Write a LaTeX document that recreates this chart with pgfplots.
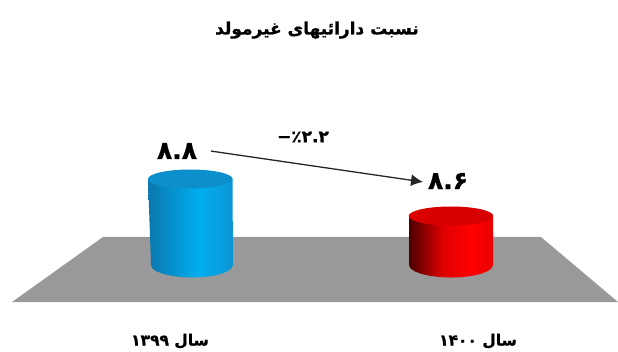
\documentclass[border=0pt]{standalone}
\usepackage{pgfplots}
\pgfplotsset{compat=1.18}
\usetikzlibrary{arrows.meta}
\usepackage{fontspec}
\setmainfont{DejaVu Sans}
\newfontfamily\arabicfont[Script=Arabic,BoldFeatures={FakeBold=1.0}]{DejaVu Sans}
\TeXXeTstate=1
\definecolor{plate}{HTML}{999999}
\definecolor{bluecap}{HTML}{0C8FCB}
\definecolor{redcap}{HTML}{D80000}
\definecolor{bluedark}{HTML}{0B77AE}
\definecolor{bluelight}{HTML}{00AEEF}
\definecolor{blueedge}{HTML}{0C95D5}
\definecolor{reddark}{HTML}{4A0000}
\definecolor{redmid}{HTML}{E00000}
\definecolor{redlight}{HTML}{FF0000}
\definecolor{rededge}{HTML}{E80000}
\pgfdeclarehorizontalshading{bluebody}{100bp}{
  color(0bp)=(bluedark);
  color(25bp)=(bluedark);
  color(55bp)=(bluelight);
  color(75bp)=(blueedge);
  color(100bp)=(blueedge)}
\pgfdeclarehorizontalshading{redbody}{100bp}{
  color(0bp)=(reddark);
  color(25bp)=(reddark);
  color(45bp)=(redmid);
  color(62bp)=(redlight);
  color(75bp)=(rededge);
  color(100bp)=(rededge)}
% flat ellipse closing the top of each cylinder
\pgfdeclareplotmark{cap}{%
  \pgfpathellipse{\pgfpointorigin}{\pgfpoint{42.3pt}{0pt}}{\pgfpoint{0pt}{9.5pt}}%
  \pgfusepathqfill}
\begin{document}
\begin{tikzpicture}
% keeps the page at the full size of the axis
\path (0,0) rectangle (618pt,352pt);
\begin{axis}[
  scale only axis, width=618pt, height=352pt,
  xmin=0, xmax=618, ymin=7.8649, ymax=9.7676,
  hide axis, clip=false]
  % floor of the chart
  \addplot[draw=none, fill=plate] coordinates
    {(103,8.4865) (541,8.4865) (618,8.1351) (12,8.1351)} -- cycle;
  % 1399 cylinder
  \addplot[draw=none, shade, shading=bluebody] coordinates
    {(148,8.8) (232.5,8.8) (233,8.335) (231.6,8.3175) (227.5,8.3012) (221,8.2872)
     (212.5,8.2765) (202.6,8.2697) (192,8.2674) (181.4,8.2697) (171.5,8.2765)
     (163,8.2872) (156.5,8.3012) (152.4,8.3175) (151,8.335)} -- cycle;
  \addplot[only marks, mark=cap, mark options={fill=bluecap, draw=none}]
    coordinates {(190.3,8.8)};
  % 1400 cylinder
  \addplot[draw=none, shade, shading=redbody] coordinates
    {(409,8.6) (493,8.6) (493,8.335) (491.6,8.3175) (487.4,8.3012) (480.7,8.2872)
     (472,8.2765) (461.9,8.2697) (451,8.2674) (440.1,8.2697) (430,8.2765)
     (421.3,8.2872) (414.6,8.3012) (410.4,8.3175) (409,8.335)} -- cycle;
  \addplot[only marks, mark=cap, mark options={fill=redcap, draw=none}]
    coordinates {(451,8.6)};
  % change between the two years
  \addplot[line width=1.3pt, color=black!85, -{Latex[length=12pt,width=12pt]}] coordinates
    {(211,8.951) (423,8.784)};
  \node[font=\bfseries\fontsize{17}{20}\selectfont\arabicfont] at (axis cs:317,9.605)
    {\beginR نسبت دارائیهای غیرمولد\endR};
  \node[font=\bfseries\fontsize{25}{28}\selectfont\arabicfont] at (axis cs:177,8.951) {\beginL ۸.۸\endL};
  \node[font=\bfseries\fontsize{25}{28}\selectfont\arabicfont] at (axis cs:448,8.789) {\beginL ۸.۶\endL};
  \node[font=\bfseries\fontsize{17}{20}\selectfont\arabicfont] at (axis cs:303,9.027) {\mbox{−}\mbox{٪}\mbox{۲.۲}};
  \node[font=\bfseries\fontsize{15.5}{18}\selectfont\arabicfont] at (axis cs:170,7.924) {\beginR سال ۱۳۹۹\endR};
  \node[font=\bfseries\fontsize{15.5}{18}\selectfont\arabicfont] at (axis cs:478,7.924) {\beginR سال ۱۴۰۰\endR};
\end{axis}
\end{tikzpicture}
\end{document}
